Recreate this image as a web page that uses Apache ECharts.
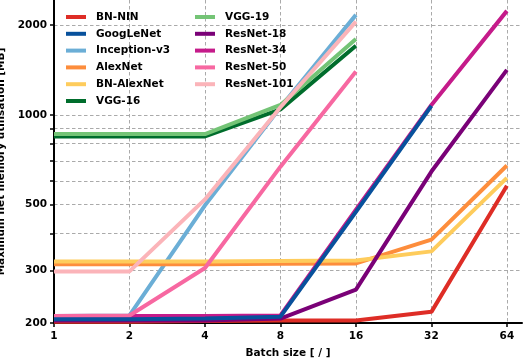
<!DOCTYPE html>
<html lang="en">
<head>
<meta charset="UTF-8">
<title>Memory vs batch size</title>
<script src="https://cdn.jsdelivr.net/npm/echarts@6/dist/echarts.min.js"></script>
<style>
  html, body { margin: 0; background: #fff; }
  #main { width: 524px; height: 360px; }
</style>
</head>
<body>
<div id="main"></div>
<script>
// batch sizes on the x axis (log2 scale)
var batchSizes = [1, 2, 4, 8, 16, 32, 64];
// y labels / grid values (log10 scale, MB)
var yLabelValues = [200, 300, 500, 1000, 2000];
var yGridValues = [200, 300, 400, 500, 600, 700, 800, 900, 1000, 2000];

var names = ['BN-NIN', 'GoogLeNet', 'Inception-v3', 'AlexNet', 'BN-AlexNet', 'VGG-16',
             'VGG-19', 'ResNet-18', 'ResNet-34', 'ResNet-50', 'ResNet-101'];
var colors = ['#de2d26', '#08519c', '#6baed6', '#fd8d3c', '#fecc5c', '#006d2c',
              '#74c476', '#7a0177', '#c51b8a', '#f768a1', '#fbb4b9'];

// memory (MB) per batch size, null = not run
var bnNin      = [202, 202, 203, 204, 204, 218, 578];
var googLeNet  = [206, 206, 207, 210, 472, 1072, null];
var inception  = [211, 212, 497, 1060, 2166, null, null];
var alexNet    = [315, 315, 315, 316, 317, 381, 676];
var bnAlexNet  = [322, 322, 322, 323, 324, 348, 614];
var vgg16      = [846, 846, 846, 1043, 1706, null, null];
var vgg19      = [862, 862, 862, 1080, 1796, null, null];
var resNet18   = [204, 204, 204, 207, 259, 645, 1416];
var resNet34   = [211, 211, 211, 212, 480, 1080, 2234];
var resNet50   = [211, 212, 306, 670, 1398, null, null];
var resNet101  = [298, 298, 520, 1060, 2056, null, null];

var allData = [bnNin, googLeNet, inception, alexNet, bnAlexNet, vgg16,
               vgg19, resNet18, resNet34, resNet50, resNet101];

var font = { fontFamily: 'DejaVu Sans', fontWeight: 'bold', fontSize: 10.5, color: '#000' };

function toPoints(vals) {
    var pts = [];
    vals.forEach(function (v, i) {
        if (v != null) pts.push([Math.log2(batchSizes[i]), Math.log10(v)]);
    });
    return pts;
}

var series = names.map(function (n, i) {
    return {
        name: n,
        type: 'line',
        data: toPoints(allData[i]),
        showSymbol: false,
        symbol: 'none',
        color: colors[i],
        lineStyle: { width: 4, color: colors[i] },
        z: n === 'GoogLeNet' ? 3 : 2,
        silent: true,
        animation: false
    };
});

var myChart = echarts.init(document.getElementById('main'));
var option = {
    animation: false,
    grid: { left: 54, right: 2, top: 0, bottom: 37, containLabel: false, outerBoundsMode: 'none' },
    legend: [{
        left: 66, top: 11, orient: 'vertical', icon: 'rect', padding: 0,
        itemWidth: 20, itemHeight: 4, itemGap: 4.8,
        data: names.slice(0, 6),
        textStyle: Object.assign({ lineHeight: 12, padding: [0, 0, 0, 5] }, font)
    }, {
        left: 195, top: 11, orient: 'vertical', icon: 'rect', padding: 0,
        itemWidth: 20, itemHeight: 4, itemGap: 4.8,
        data: names.slice(6),
        textStyle: Object.assign({ lineHeight: 12, padding: [0, 0, 0, 5] }, font)
    }],
    xAxis: {
        type: 'value',
        min: 0,
        max: 6.2,
        name: 'Batch size [ / ]',
        nameLocation: 'middle',
        nameGap: 25,
        nameTextStyle: font,
        axisLine: { lineStyle: { color: '#000', width: 2 } },
        axisTick: { length: 4, lineStyle: { color: '#000', width: 1.5 },
                    customValues: batchSizes.map(function (b) { return Math.log2(b); }) },
        axisLabel: Object.assign({
            margin: 8,
            customValues: batchSizes.map(function (b) { return Math.log2(b); }),
            formatter: function (v) { return String(Math.round(Math.pow(2, v))); }
        }, font),
        splitLine: { show: true, lineStyle: { color: '#aaa', type: [3.5, 2.5], width: 1 } }
    },
    yAxis: {
        type: 'value',
        min: Math.log10(200),
        max: Math.log10(2430),
        name: 'Maximum net memory utilisation [MB]',
        nameLocation: 'middle',
        nameGap: 34,
        nameTextStyle: font,
        axisLine: { show: true, lineStyle: { color: '#000', width: 2 } },
        axisTick: { show: true, length: 4, lineStyle: { color: '#000', width: 1.5 },
                    customValues: yGridValues.map(function (v) { return Math.log10(v); }) },
        axisLabel: Object.assign({
            margin: 7,
            customValues: yLabelValues.map(function (v) { return Math.log10(v); }),
            formatter: function (v) { return String(Math.round(Math.pow(10, v))); }
        }, font),
        splitLine: { show: true, lineStyle: { color: '#aaa', type: [3.5, 2.5], width: 1 } }
    },
    series: series
};
myChart.setOption(option);
</script>
</body>
</html>
